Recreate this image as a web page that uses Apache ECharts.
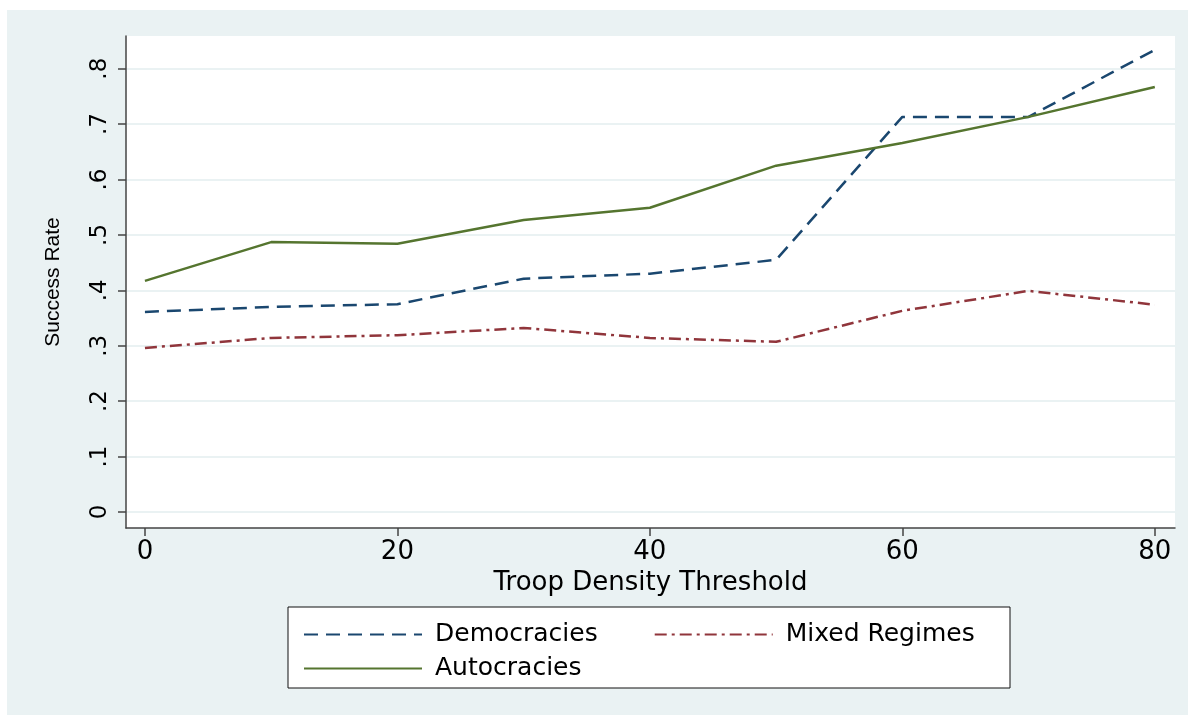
<!DOCTYPE html>
<html><head><meta charset="utf-8">
<script src="https://cdn.jsdelivr.net/npm/echarts@6/dist/echarts.min.js"></script>
<style>html,body{margin:0;background:#fff}#c{width:1191px;height:715px}</style>
</head><body><div id="c"></div>
<script>
const thresholds = [0, 10, 20, 30, 40, 50, 60, 70, 80];
const democracies = [0.361, 0.370, 0.375, 0.421, 0.430, 0.455, 0.713, 0.713, 0.834];
const mixedRegimes = [0.296, 0.314, 0.319, 0.332, 0.314, 0.307, 0.363, 0.399, 0.374];
const autocracies = [0.417, 0.487, 0.484, 0.527, 0.549, 0.625, 0.666, 0.713, 0.767];
const xTicks = [0, 20, 40, 60, 80];
const yTicks = [0, 0.1, 0.2, 0.3, 0.4, 0.5, 0.6, 0.7, 0.8];

const pair = arr => thresholds.map((t, i) => [t, arr[i]]);
const font = 'Liberation Sans, Arial, sans-serif';
const wide = 'DejaVu Sans, sans-serif';
const axisCol = '#444';

const chart = echarts.init(document.getElementById('c'));
chart.setOption({
  animation: false,
  textStyle: { fontFamily: font },
  graphic: [
    { type: 'rect', shape: { x: 7, y: 10, width: 1181, height: 705 }, style: { fill: '#EAF2F3' }, z: -10 },
    { type: 'rect', shape: { x: 288, y: 607, width: 722, height: 81 }, style: { fill: '#fff', stroke: '#111', lineWidth: 1 }, z: 0 }
  ],
  grid: { left: 126, top: 36, width: 1049, height: 492, show: true, backgroundColor: '#fff', borderWidth: 0 },
  xAxis: {
    type: 'value', min: -1.5, max: 81.6,
    name: 'Troop Density Threshold', nameLocation: 'middle', nameGap: 22,
    nameTextStyle: { fontSize: 26, color: '#000', fontFamily: wide },
    axisLine: { onZero: false, lineStyle: { color: axisCol, width: 1.5 } },
    axisTick: { show: true, length: 8, customValues: xTicks, lineStyle: { color: axisCol, width: 1.5 } },
    axisLabel: { customValues: xTicks, fontSize: 26, color: '#000', margin: 11, fontFamily: wide },
    splitLine: { show: false }
  },
  yAxis: {
    type: 'value', min: -0.029, max: 0.859,
    name: 'Success Rate', nameLocation: 'middle', nameGap: 62,
    nameTextStyle: { fontSize: 21, color: '#000' },
    axisLine: { show: true, onZero: false, lineStyle: { color: axisCol, width: 1.5 } },
    axisTick: { show: true, length: 8, customValues: yTicks, lineStyle: { color: axisCol, width: 1.5 } },
    axisLabel: {
      customValues: yTicks, fontSize: 23, color: '#000', rotate: 90, margin: 14, fontFamily: wide,
      formatter: v => v === 0 ? '0' : String(Math.round(v * 10) / 10).replace(/^0/, '')
    },
    splitLine: { show: true, customValues: yTicks, lineStyle: { color: '#EAF2F3', width: 2 } }
  },
  legend: [
    { data: ['Democracies', 'Mixed Regimes'], left: 298, top: 617, itemWidth: 118, itemHeight: 14, itemGap: 56,
      itemStyle: { opacity: 0 }, textStyle: { fontSize: 25, color: '#000', fontFamily: wide, padding: [0, 0, 0, 8] }, z: 5 },
    { data: ['Autocracies'], left: 298, top: 651, itemWidth: 118, itemHeight: 14,
      itemStyle: { opacity: 0 }, textStyle: { fontSize: 25, color: '#000', fontFamily: wide, padding: [0, 0, 0, 8] }, z: 5 }
  ],
  series: [
    { name: 'Democracies', type: 'line', data: pair(democracies), symbol: 'none', color: '#1A476F',
      lineStyle: { width: 2.5, type: [14, 8], color: '#1A476F' } },
    { name: 'Mixed Regimes', type: 'line', data: pair(mixedRegimes), symbol: 'none', color: '#90353B',
      lineStyle: { width: 2.5, type: [12, 5, 3, 5], color: '#90353B' } },
    { name: 'Autocracies', type: 'line', data: pair(autocracies), symbol: 'none', color: '#55752F',
      lineStyle: { width: 2.5, color: '#55752F' } }
  ]
});
</script></body></html>
